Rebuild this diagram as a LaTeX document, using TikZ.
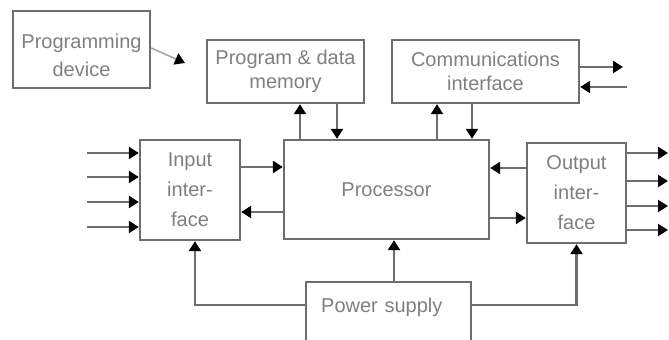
\documentclass[tikz,border=0pt]{standalone}
\usepackage{fontspec}
\setmainfont{Liberation Sans}
\usetikzlibrary{arrows.meta}

\begin{document}
\begin{tikzpicture}[x=0.5pt,y=-0.5pt,
  blockbox/.style={draw=boxgrey,line width=1.2pt,fill=white,text=textgrey,align=center,inner sep=0pt},
  link/.style={draw=boxgrey,line width=1.2pt,-{Triangle[length=5pt,width=6pt,color=black]}}]
\definecolor{boxgrey}{HTML}{6E6E6E}
\definecolor{textgrey}{HTML}{808080}
\clip (0,0) rectangle (669,340);
\node [blockbox,minimum width=68.5pt,minimum height=38.5pt] (progdev) at (81.5,49.5) {\rule{0pt}{13pt}Programming\\[2pt]device};
\node [blockbox,minimum width=78.5pt,minimum height=31.5pt] (memory) at (285.5,71.5) {Program \& data\\memory};
\node [blockbox,minimum width=93.5pt,minimum height=31.5pt] (comms) at (485.5,71.5) {Communications\\interface};
\node [blockbox,minimum width=102.5pt,minimum height=49.5pt] (proc) at (386.5,189.5) {Processor};
\node [blockbox,minimum width=50pt,minimum height=50pt] (input) at (190,190) {Input\\[3pt]inter-\\[3pt]face};
\node [blockbox,minimum width=49.5pt,minimum height=50pt] (output) at (576.5,193) {Output\\[3pt]inter-\\[3pt]face};
\node [blockbox,anchor=north west,align=left,text width=67.5pt,inner xsep=7.5pt,inner ysep=8pt,text depth=40pt] (power) at (305,281) {Power supply};

\coordinate (pdtip) at (185,63);
\draw[link,draw=boxgrey!60,line width=0.8pt] (progdev.east |- 0,48) -- (pdtip);
% buses to memory and comms
\foreach \src/\dst/\xx in {proc.north/memory.south/300,memory.south/proc.north/337,proc.north/comms.south/437,comms.south/proc.north/472}
  {\draw[link] (\src -| \xx,0) -- (\dst -| \xx,0);}
\foreach \src/\dst/\yy in {input.east/proc.west/167,proc.west/input.east/212,output.west/proc.east/168,proc.east/output.west/218}
  {\draw[link] (\src |- 0,\yy) -- (\dst |- 0,\yy);}
\foreach \yy in {153,177,202,227}
  {\coordinate (in\yy) at (87,\yy);
   \draw[link] (in\yy) -- (input.west |- in\yy);}
\foreach \yy in {153,181,206,230}
  {\coordinate (out\yy) at (668,\yy);
   \draw[link] (output.east |- out\yy) -- (out\yy);}
\coordinate (commout) at (623,67);
\coordinate (commin) at (627,87);
\draw[link] (comms.east |- commout) -- (commout);
\draw[link] (commin) -- (comms.east |- commin);
% power supply
\draw[link] (power.north -| 394,0) -- (proc.south -| 394,0);
\draw[link] (power.west |- 0,305) -| (input.south -| 195,0);
\draw[link] (power.east |- 0,305) -| (output.south);
\end{tikzpicture}
\end{document}
